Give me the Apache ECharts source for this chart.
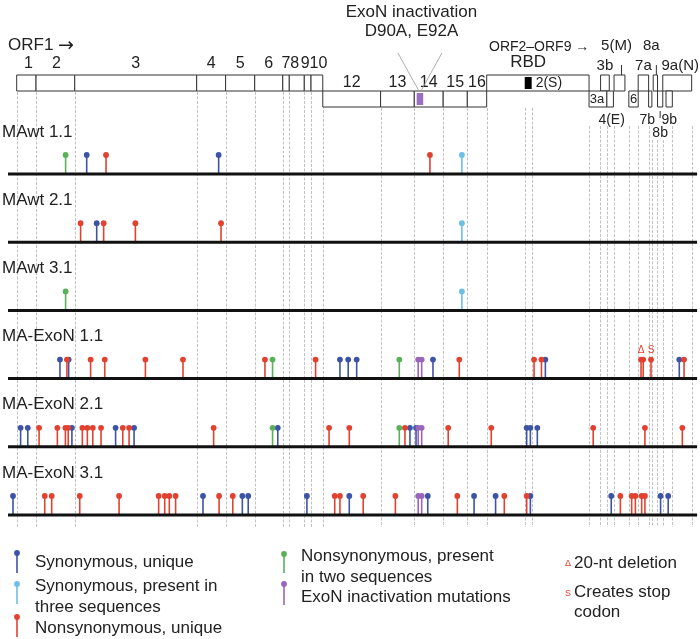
<!DOCTYPE html>
<html>
<head>
<meta charset="utf-8">
<script src="https://cdn.jsdelivr.net/npm/echarts@6/dist/echarts.min.js"></script>
<style>
html, body { margin: 0; padding: 0; background: #fff; }
#chart { width: 700px; height: 639px; }
</style>
</head>
<body>
<div id="chart"></div>
<script>
// genome positions in nt
const trackNames = ['MAwt 1.1', 'MAwt 2.1', 'MAwt 3.1', 'MA-ExoN 1.1', 'MA-ExoN 2.1', 'MA-ExoN 3.1']

// ORF1a segments (upper row), ORF1b segments (lower row)
const orf1a = [['1', 400, 1290], ['2', 1290, 3070], ['3', 3070, 8680], ['4', 8680, 10010], ['5', 10010, 11350],
    ['6', 11350, 12640], ['7', 12640, 12940], ['8', 12940, 13630], ['9', 13630, 13940], ['10', 13940, 14480]]
const orf1b = [['12', 14480, 17140], ['13', 17140, 18690], ['14', 18690, 20020], ['15', 20020, 21130], ['16', 21130, 22020]]
// ORF2-ORF9
const orfUpper = [['2(S)', 22020, 26730], ['3b', 27260, 27660], ['5(M)', 27880, 28380], ['7a', 28990, 29470],
    ['8a', 29680, 29880], ['9a(N)', 30120, 31450]]
const orfLower = [['3a', 26730, 27550], ['4(E)', 27550, 27850], ['6', 28560, 28990], ['7b', 29470, 29620],
    ['8b', 29880, 30120], ['9b', 30270, 30560]]
const rbd = [23770, 24090]
const exonSite = [18800, 19100]
const boundaries = [400, 1290, 3070, 8680, 10010, 11350, 12640, 12940, 13630, 13940, 14480, 17140, 18690, 20020,
    21130, 22020, 23770, 24090, 26730, 27230, 27540, 27880, 28550, 28990, 29490, 29640, 29840, 30150, 30560, 31450]

// mutations: [position, kind]
// s = synonymous unique, s3 = synonymous in three, n = nonsynonymous unique, n2 = nonsyn in two, x = ExoN inactivation
const mawt11 = [[2650, 'n2'], [3620, 's'], [4510, 'n'], [9690, 's'], [19410, 'n'], [20880, 's3']]
const mawt21 = [[3340, 'n'], [4080, 's'], [4400, 'n'], [5860, 'n'], [9800, 'n'], [20880, 's3']]
const mawt31 = [[2650, 'n2'], [20880, 's3']]
const exon11 = [[2390, 's'], [2710, 'n'], [2790, 's'], [3800, 'n'], [4450, 'n'], [6320, 'n'], [8050, 'n'], [11820, 'n'],
    [12170, 'n2'], [14150, 'n'], [15270, 's'], [15650, 's'], [16040, 's'], [18000, 'n2'], [18870, 'x'], [19030, 'x'],
    [19550, 's'], [20760, 'n'], [24200, 'n'], [24540, 'n'], [24720, 's'], [29120, 'n'], [29220, 'n'], [29580, 'n'],
    [30880, 's'], [31100, 'n']]
const exon21 = [[580, 's'], [910, 's'], [1430, 'n'], [2270, 'n'], [2640, 'n'], [2770, 'n'], [2940, 's'], [3420, 'n'],
    [3650, 'n'], [3900, 'n'], [4280, 'n'], [4950, 's'], [5280, 'n'], [5570, 'n'], [5800, 's'], [9460, 'n'],
    [12170, 'n2'], [12410, 's'], [14770, 'n'], [15700, 'n'], [18000, 'n2'], [18260, 'n'], [18490, 's'], [18770, 's'],
    [18870, 'x'], [19030, 'x'], [20250, 'n'], [22230, 'n'], [23860, 's'], [24030, 's'], [24350, 's'], [26920, 'n'],
    [29300, 'n'], [31020, 'n']]
const exon31 = [[230, 's'], [1690, 'n'], [2010, 'n'], [3300, 'n'], [5110, 'n'], [6930, 'n'], [7210, 'n'], [7420, 'n'],
    [7710, 'n'], [8970, 's'], [9710, 'n'], [10340, 'n'], [10780, 's'], [11050, 's'], [13750, 's'], [15030, 'n'],
    [15270, 'n'], [15700, 's'], [16340, 'n'], [17820, 'n'], [18870, 'x'], [19030, 'x'], [19310, 's'], [20670, 'n'],
    [21440, 's'], [22430, 's'], [22830, 'n'], [23860, 'n'], [24030, 's'], [27750, 's'], [28170, 'n'], [28690, 'n'],
    [28860, 'n'], [29150, 'n'], [29300, 'n'], [30020, 's'], [30370, 's']]
const tracks = [mawt11, mawt21, mawt31, exon11, exon21, exon31]

// special marks: [track, position, symbol]
const marks = [[3, 29120, 'Δ'], [3, 29580, 'S']]

// ---- layout / style ----
const FONT = "'Liberation Sans', Arial, Helvetica, sans-serif"
const kinds = {
    s: '#3c53a6',
    s3: '#6cbfe9',
    n: '#e2412f',
    n2: '#5ab15a',
    x: '#9a66b9'
}
const ROW_TOP = 75, ROW_MID = 91, ROW_H = 16
const BASE0 = 174, STEP = 68.2, STEM = 19

const genes = []
orf1a.forEach(g => genes.push({ key: '1a:' + g[0], name: g[0], start: g[1], end: g[2], row: 0, place: 'above1' }))
orf1b.forEach(g => genes.push({ key: '1b:' + g[0], name: g[0], start: g[1], end: g[2], row: 1, place: 'band' }))
orfUpper.forEach(g => genes.push({ key: 'up:' + g[0], name: g[0], start: g[1], end: g[2], row: 0, place: 'above' }))
orfLower.forEach(g => genes.push({ key: 'lo:' + g[0], name: g[0], start: g[1], end: g[2], row: 1, place: 'below' }))

// label tweaks: [place, dx]
const labelFix = {
    '1a:1': ['above1', 2], '1a:2': ['above1', 1], '1a:8': ['above1', -2], '1a:9': ['above1', -2.5], '1a:10': ['above1', 1.5],
    'up:2(S)': ['inside', 11], 'lo:3a': ['inside', -1], 'lo:6': ['inside', 0],
    'up:5(M)': ['above2', -3], 'up:8a': ['above2', -4], 'up:9a(N)': ['above', 3],
    'lo:4(E)': ['below', 1.5], 'lo:7b': ['below', -3], 'lo:8b': ['below2', 0]
}

function text(str, x, y, size, opts) {
    opts = opts || {}
    return {
        type: 'text',
        style: {
            text: str, x: x, y: y,
            font: (opts.weight || 'normal') + ' ' + size + 'px ' + (opts.family || FONT),
            fill: opts.color || '#222',
            align: opts.align || 'center', textAlign: opts.align || 'center',
            verticalAlign: 'middle', textVerticalAlign: 'middle'
        },
        z2: 10
    }
}

function renderGene(params, api) {
    const g = genes[params.dataIndex]
    const x1 = api.coord([g.start, 0])[0]
    const x2 = api.coord([g.end, 0])[0]
    const y = g.row === 0 ? ROW_TOP : ROW_MID
    const children = [{
        type: 'rect',
        shape: { x: x1, y: y, width: x2 - x1, height: ROW_H },
        style: { fill: '#fff', stroke: '#333', lineWidth: 1 }
    }]
    const fix = labelFix[g.key] || [g.place, 0]
    const cx = (x1 + x2) / 2 + fix[1]
    const place = fix[0]
    if (place === 'above1') children.push(text(g.name, cx, 64, 16))
    else if (place === 'band') children.push(text(g.name, cx, 83, 16))
    else if (place === 'above') children.push(text(g.name, cx, 66, 15))
    else if (place === 'inside') children.push(text(g.name, cx, g.row === 0 ? 83 : 99, g.row === 0 ? 14 : 13))
    else if (place === 'above2') {
        children.push(text(g.name, cx, 46, 15))
        children.push({ type: 'line', shape: { x1: cx + 5, y1: 65, x2: cx + 5, y2: ROW_TOP }, style: { stroke: '#333', lineWidth: 1 } })
    } else if (place === 'below') children.push(text(g.name, cx, 120, 14))
    else if (place === 'below2') {
        children.push(text(g.name, cx, 133, 14))
        children.push({ type: 'line', shape: { x1: cx, y1: 111, x2: cx, y2: 118 }, style: { stroke: '#333', lineWidth: 1 } })
    }
    return { type: 'group', children: children }
}

function renderFeatures(params, api) {
    const r1 = api.coord([rbd[0], 0])[0], r2 = api.coord([rbd[1], 0])[0]
    const e1 = api.coord([exonSite[0], 0])[0], e2 = api.coord([exonSite[1], 0])[0]
    const ec = (e1 + e2) / 2
    return {
        type: 'group',
        children: [
            { type: 'rect', shape: { x: r1, y: ROW_TOP + 2, width: r2 - r1, height: ROW_H - 4 }, style: { fill: '#000' } },
            text('RBD', (r1 + r2) / 2, 62, 17),
            { type: 'rect', shape: { x: e1, y: ROW_MID + 2, width: e2 - e1, height: ROW_H - 4 }, style: { fill: '#9a6fbf' } },
            { type: 'line', shape: { x1: ec - 22, y1: 53, x2: ec - 1, y2: ROW_MID }, style: { stroke: '#999', lineWidth: 0.8 } },
            { type: 'line', shape: { x1: ec + 22, y1: 53, x2: ec + 1, y2: ROW_MID }, style: { stroke: '#999', lineWidth: 0.8 } },
            text('ExoN inactivation', ec - 8.5, 12, 17),
            text('D90A, E92A', ec - 8.5, 31, 17)
        ]
    }
}

function renderGridline(params, api) {
    const b = api.value(0)
    const x = Math.round(api.coord([b, 0])[0]) + 0.5
    let y0 = 108
    if (b <= 14480) y0 = ROW_MID + 1
    else if (b >= 26730) y0 = (b > 29600 && b < 30200) ? 140 : 126
    return {
        type: 'line',
        shape: { x1: x, y1: y0, x2: x, y2: 527 },
        style: { stroke: '#c2c2c2', lineWidth: 1, lineDash: [3, 1.5] }
    }
}

function renderTrack(params, api) {
    const i = api.value(0)
    const y = api.coord([0, BASE0 + i * STEP])[1]
    const xa = api.coord([0, 0])[0], xb = api.coord([31700, 0])[0]
    return {
        type: 'group',
        children: [
            { type: 'line', shape: { x1: xa, y1: y, x2: xb, y2: y }, style: { stroke: '#111', lineWidth: 3 } },
            text(trackNames[i], 2, y - 42, 17, { align: 'left' })
        ]
    }
}

function mutationSeries(kind) {
    const data = []
    tracks.forEach((t, i) => t.forEach(m => { if (m[1] === kind) data.push([m[0], i]) }))
    return {
        type: 'custom',
        coordinateSystem: 'cartesian2d',
        clip: false,
        silent: true,
        z: 5,
        data: data,
        renderItem: function (params, api) {
            const x = api.coord([api.value(0), 0])[0]
            const base = api.coord([0, BASE0 + api.value(1) * STEP])[1]
            return {
                type: 'group',
                children: [
                    { type: 'line', shape: { x1: x, y1: base, x2: x, y2: base - STEM }, style: { stroke: kinds[kind], lineWidth: 1.6 } },
                    { type: 'circle', shape: { cx: x, cy: base - STEM, r: 2.9 }, style: { fill: kinds[kind] } }
                ]
            }
        }
    }
}

function lolly(x, y1, y2, color) {
    return {
        type: 'group',
        children: [
            { type: 'line', shape: { x1: x, y1: y1, x2: x, y2: y2 }, style: { stroke: color, lineWidth: 1.6 } },
            { type: 'circle', shape: { cx: x, cy: y1, r: 2.9 }, style: { fill: color } }
        ]
    }
}

const legendGraphics = [
    lolly(17, 553, 573, kinds.s),
    text('Synonymous, unique', 35, 562, 17, { align: 'left' }),
    lolly(17, 584, 604, kinds.s3),
    text('Synonymous, present in', 35, 586, 17, { align: 'left' }),
    text('three sequences', 35, 607, 17, { align: 'left' }),
    lolly(17, 617, 637, kinds.n),
    text('Nonsynonymous, unique', 35, 628, 17, { align: 'left' }),
    lolly(284, 554, 573, kinds.n2),
    text('Nonsynonymous, present', 301, 556, 17, { align: 'left' }),
    text('in two sequences', 301, 577, 17, { align: 'left' }),
    lolly(284, 584, 605, kinds.x),
    text('ExoN inactivation mutations', 301, 597, 17, { align: 'left' }),
    text('Δ', 568, 564, 9, { color: kinds.n }),
    text('20-nt deletion', 574, 563, 17, { align: 'left' }),
    text('S', 568, 594, 9, { color: kinds.n }),
    text('Creates stop', 574, 592, 17, { align: 'left' }),
    text('codon', 574, 612, 17, { align: 'left' }),
    text('ORF1', 8, 45, 17, { align: 'left' }),
    text('→', 58, 46, 19, { align: 'left', family: "'DejaVu Sans', sans-serif" }),
    text('ORF2–ORF9 →', 489, 47, 14, { align: 'left' })
]

const chart = echarts.init(document.getElementById('chart'))

const option = {
    animation: false,
    grid: { left: 8, right: 2.9, top: 0, bottom: 0 },
    xAxis: { type: 'value', min: 0, max: 31700, show: false },
    yAxis: { type: 'value', min: 0, max: 639, inverse: true, show: false },
    graphic: legendGraphics,
    series: [
        {
            type: 'custom', coordinateSystem: 'cartesian2d', clip: false, silent: true, z: 1,
            data: boundaries.map(b => [b]),
            renderItem: renderGridline
        },
        {
            type: 'custom', coordinateSystem: 'cartesian2d', clip: false, silent: true, z: 3,
            data: genes.map(g => [g.start, g.end]),
            renderItem: renderGene
        },
        {
            type: 'custom', coordinateSystem: 'cartesian2d', clip: false, silent: true, z: 4,
            data: [[exonSite[0], 0]],
            renderItem: renderFeatures
        },
        mutationSeries('s'),
        mutationSeries('s3'),
        mutationSeries('n'),
        mutationSeries('n2'),
        mutationSeries('x'),
        {
            type: 'custom', coordinateSystem: 'cartesian2d', clip: false, silent: true, z: 6,
            data: trackNames.map((n, i) => [i]),
            renderItem: renderTrack
        },
        {
            type: 'custom', coordinateSystem: 'cartesian2d', clip: false, silent: true, z: 6,
            data: marks.map(m => [m[1], m[0]]),
            renderItem: function (params, api) {
                const x = api.coord([api.value(0), 0])[0]
                const base = api.coord([0, BASE0 + api.value(1) * STEP])[1]
                return text(marks[params.dataIndex][2], x, base - STEM - 9, 10, { color: kinds.n })
            }
        }
    ]
}

chart.setOption(option)
</script>
</body>
</html>
